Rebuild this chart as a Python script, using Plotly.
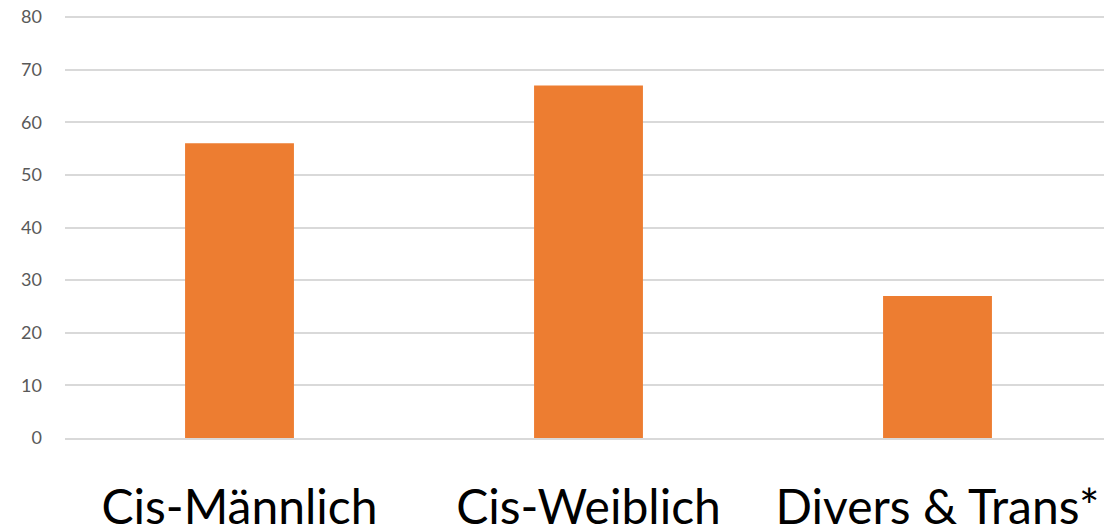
import plotly.graph_objects as go

categories = ["Cis-Männlich", "Cis-Weiblich", "Divers & Trans*"]
values = [56, 67, 27]
y_ticks = [0, 10, 20, 30, 40, 50, 60, 70, 80]

fig = go.Figure(go.Bar(
    x=categories,
    y=values,
    marker=dict(color="#ED7D31", line=dict(width=0)),
))

# page body has an 8px margin, so the figure is shrunk by that amount
fig.update_layout(
    width=1104,
    height=523,
    margin=dict(l=57, r=0, t=8, b=93),
    plot_bgcolor="white",
    paper_bgcolor="white",
    bargap=0.688,
    showlegend=False,
    font=dict(family="Lato, Open Sans, sans-serif"),
)
fig.update_yaxes(
    range=[0, 80.2],
    tickvals=y_ticks,
    showgrid=True,
    gridcolor="#d9d9d9",
    gridwidth=1.5,
    zeroline=False,
    showline=False,
    automargin=False,
    ticklabeloverflow="allow",
    tickfont=dict(size=18, color="#595959"),
    ticklabelstandoff=22,
)
fig.update_xaxes(
    showline=True,
    linecolor="#d9d9d9",
    linewidth=1.5,
    automargin=False,
    ticklabeloverflow="allow",
    tickfont=dict(size=48, color="black"),
    ticklabelstandoff=27,
)

fig.write_html("out.html")
